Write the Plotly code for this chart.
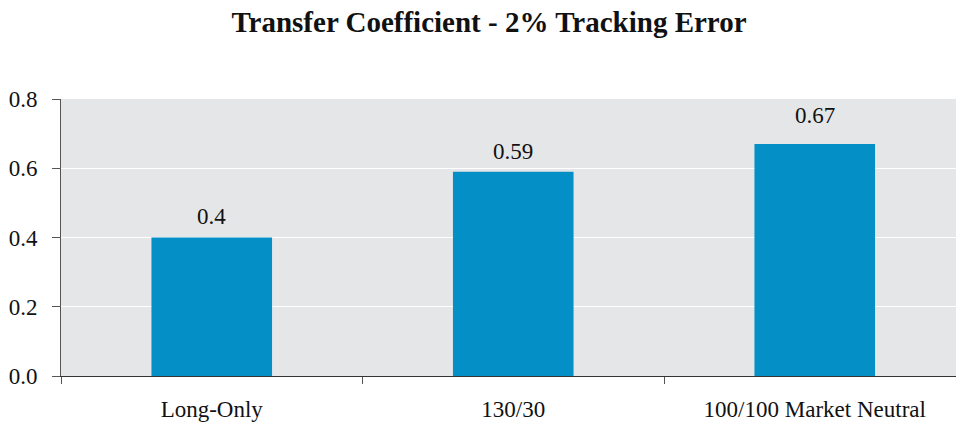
import plotly.graph_objects as go

categories = ["Long-Only", "130/30", "100/100 Market Neutral"]
transfer_coef = [0.4, 0.59, 0.67]
value_labels = ["0.4", "0.59", "0.67"]
y_ticks = [0.0, 0.2, 0.4, 0.6, 0.8]

SERIF = "Liberation Serif, Times New Roman, serif"
label_lift = [7, 6, 14]  # pixel gap of each value label above its bar

fig = go.Figure(
    go.Bar(
        x=categories,
        y=transfer_coef,
        marker=dict(color="#058FC7", line=dict(width=0)),
        width=0.4,
        hoverinfo="x+y",
    )
)

for cat, val, txt, lift in zip(categories, transfer_coef, value_labels, label_lift):
    fig.add_annotation(
        x=cat,
        y=val,
        text=txt,
        showarrow=False,
        yanchor="bottom",
        yshift=lift,
        font=dict(family=SERIF, size=23, color="#111111"),
    )

fig.update_layout(
    width=956,
    height=423,
    margin=dict(l=61, r=0, t=99, b=47),
    paper_bgcolor="white",
    plot_bgcolor="#E5E6E8",
    showlegend=False,
    title=dict(
        text="<b>Transfer Coefficient - 2% Tracking Error</b>",
        x=489 / 956,
        xanchor="center",
        y=1 - 22 / 423,
        yanchor="middle",
        font=dict(family=SERIF, size=29, color="#111111"),
    ),
    font=dict(family=SERIF, size=23, color="#111111"),
)

fig.update_xaxes(
    type="category",
    range=[-0.5, 2.4685],
    tickson="boundaries",
    ticks="outside",
    ticklen=7,
    tickcolor="#555555",
    showline=True,
    linecolor="#333333",
    linewidth=1,
    showgrid=False,
    automargin=False,
    ticklabelstandoff=12,
    tickfont=dict(family=SERIF, size=23, color="#111111"),
)

fig.update_yaxes(
    range=[0, 0.8],
    tickvals=y_ticks,
    tickformat=".1f",
    ticks="outside",
    ticklen=8,
    tickcolor="#555555",
    showline=True,
    linecolor="#555555",
    linewidth=1,
    showgrid=True,
    gridcolor="white",
    gridwidth=1,
    zeroline=False,
    automargin=False,
    ticklabelstandoff=10,
    tickfont=dict(family=SERIF, size=23, color="#111111"),
)

fig.write_html("out.html")
